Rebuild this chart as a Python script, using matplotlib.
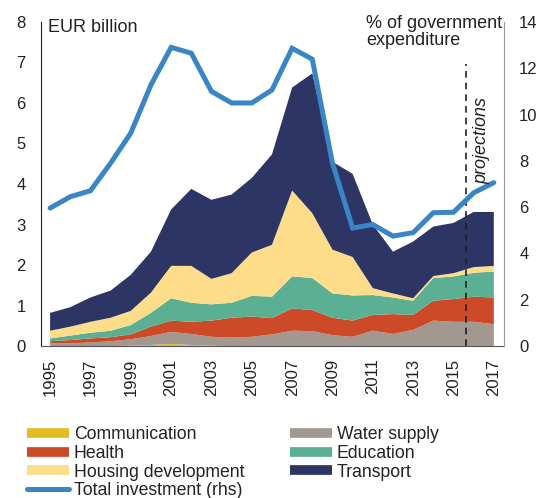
import matplotlib
matplotlib.use("Agg")
import matplotlib.pyplot as plt
from matplotlib.lines import Line2D
import numpy as np

plt.rcParams['font.family'] = ['Liberation Sans', 'DejaVu Sans']

years = list(range(1995, 2018))

communication = [0.00, 0.00, 0.00, 0.00, 0.01, 0.03, 0.05, 0.03, 0.01, 0.00, 0.00, 0.00,
                 0.00, 0.00, 0.00, 0.00, 0.00, 0.00, 0.00, 0.00, 0.00, 0.00, 0.00]
water_supply = [0.07, 0.07, 0.09, 0.12, 0.16, 0.22, 0.30, 0.27, 0.22, 0.21, 0.23, 0.29,
                0.38, 0.37, 0.27, 0.23, 0.38, 0.30, 0.40, 0.63, 0.60, 0.60, 0.54]
health = [0.05, 0.08, 0.10, 0.10, 0.12, 0.23, 0.28, 0.30, 0.40, 0.49, 0.50, 0.40,
          0.55, 0.52, 0.43, 0.40, 0.39, 0.49, 0.37, 0.49, 0.56, 0.62, 0.66]
education = [0.07, 0.11, 0.14, 0.16, 0.23, 0.34, 0.55, 0.47, 0.40, 0.37, 0.51, 0.53,
             0.79, 0.79, 0.60, 0.62, 0.49, 0.41, 0.35, 0.56, 0.56, 0.59, 0.64]
housing = [0.19, 0.22, 0.27, 0.32, 0.35, 0.50, 0.80, 0.91, 0.63, 0.73, 1.07, 1.28,
           2.12, 1.60, 1.08, 0.95, 0.17, 0.10, 0.06, 0.05, 0.08, 0.14, 0.14]
transport = [0.44, 0.48, 0.60, 0.67, 0.89, 1.01, 1.39, 1.90, 1.95, 1.94, 1.84, 2.23,
             2.54, 3.45, 2.17, 2.05, 1.57, 1.03, 1.40, 1.22, 1.24, 1.36, 1.33]
total_investment = [5.96, 6.45, 6.71, 7.9, 9.2, 11.28, 12.9, 12.65, 11.0, 10.5, 10.5, 11.06,
                    12.86, 12.39, 7.9, 5.1, 5.25, 4.75, 4.9, 5.76, 5.78, 6.62, 7.06]

x_ticks = list(range(1995, 2018, 2))
left_ticks = [0, 1, 2, 3, 4, 5, 6, 7, 8]
right_ticks = [0, 2, 4, 6, 8, 10, 12, 14]
projection_start = 2015.6

labels = ['Communication', 'Water supply', 'Health', 'Education',
          'Housing development', 'Transport']
colors = ['#E3BC24', '#A39890', '#CC4A27', '#5BAF92', '#FDDD89', '#2D3565']
line_color = '#3A85C6'
text_color = '#222222'

fig = plt.figure(figsize=(5.42, 4.98), dpi=100)
ax = fig.add_axes([0.0757, 0.305, 0.854, 0.651])

ax.stackplot(years, communication, water_supply, health, education, housing, transport,
             colors=colors, linewidth=0)
ax.set_xlim(1994.55, 2017.5)
ax.set_ylim(0, 8)
ax.set_yticks(left_ticks)
ax.set_xticks(x_ticks)
ax.set_xticklabels([str(y) for y in x_ticks], rotation=90)
ax.tick_params(axis='both', length=0, labelsize=12, colors=text_color)
ax.tick_params(axis='y', pad=11)
ax.tick_params(axis='x', pad=9)
for s in ['top', 'right']:
    ax.spines[s].set_visible(False)
ax.spines['left'].set_color(text_color)
ax.spines['bottom'].set_color('#555555')

ax.axvline(projection_start, ymin=0, ymax=6.95 / 8, color=text_color, lw=1.2,
           linestyle=(0, (4, 3)), zorder=3)

ax2 = ax.twinx()
ax2.plot(years, total_investment, color=line_color, lw=3.6, solid_capstyle='round',
         solid_joinstyle='miter')
ax2.set_ylim(0, 14)
ax2.set_yticks(right_ticks)
ax2.tick_params(axis='y', length=0, labelsize=12, pad=11, colors=text_color)
for s in ['top', 'left', 'bottom']:
    ax2.spines[s].set_visible(False)
ax2.spines['right'].set_color('#999999')

fig.text(48 / 542, 1 - 19 / 498, 'EUR billion', fontsize=13, ha='left', va='top',
         color=text_color)
fig.text(366 / 542, 1 - 15 / 498, '% of government\nexpenditure', fontsize=13,
         ha='left', va='top', multialignment='left', color=text_color, linespacing=1.0)
fig.text(482 / 542, 1 - 140 / 498, 'projections', fontsize=13, rotation=90,
         style='italic', ha='center', va='center', color=text_color)

def patch(c):
    return Line2D([0], [0], color=c, lw=7, solid_capstyle='butt')

handles = [patch(colors[0]), patch(colors[2]), patch(colors[4]),
           Line2D([0], [0], color=line_color, lw=3.6, solid_capstyle='round'),
           patch(colors[1]), patch(colors[3]), patch(colors[5])]
hlabels = ['Communication', 'Health', 'Housing development', 'Total investment (rhs)',
           'Water supply', 'Education', 'Transport']
leg = fig.legend(handles, hlabels, ncol=2, loc='upper left',
                 bbox_to_anchor=(27 / 542, 1 - 426 / 498), frameon=False,
                 fontsize=12.7, handlelength=2.4, handletextpad=0.25,
                 labelspacing=0.1, columnspacing=2.6, borderpad=0, borderaxespad=0)
for t in leg.get_texts():
    t.set_color(text_color)

fig.savefig('out.png', dpi=100)
